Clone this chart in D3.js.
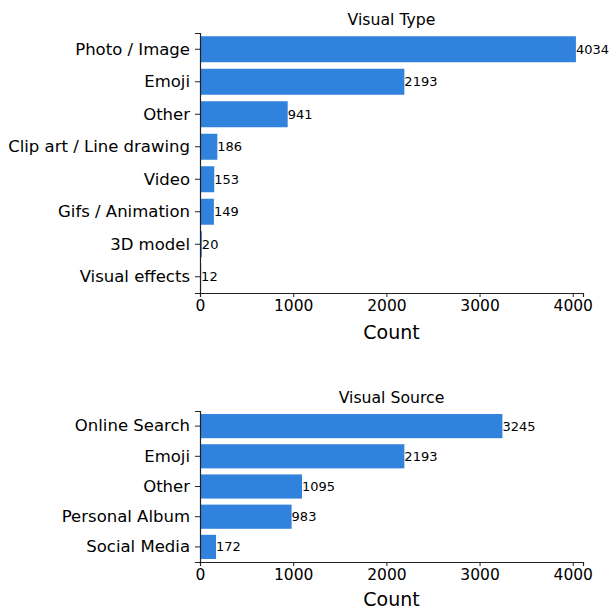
<!DOCTYPE html>
<html><head><meta charset="utf-8">
<script src="https://cdn.jsdelivr.net/npm/d3@7"></script>
<style>body{margin:0;background:#fff;} text{font-family:"DejaVu Sans",sans-serif;fill:#000;}</style>
</head><body>
<svg id="chart" width="611" height="609"></svg>
<script>
const typeCategories = ["Photo / Image","Emoji","Other","Clip art / Line drawing","Video","Gifs / Animation","3D model","Visual effects"];
const typeValues = [4034,2193,941,186,153,149,20,12];
const sourceCategories = ["Online Search","Emoji","Other","Personal Album","Social Media"];
const sourceValues = [3245,2193,1095,983,172];
const xTicks = [0,1000,2000,3000,4000];
const xMax = 4110;
const barColor = "#3182dc";

const svg = d3.select("#chart");
const left = 200, right = 583;

function panel(cats, vals, title, top, bottom, countOffset) {
  const g = svg.append("g");
  const x = d3.scaleLinear().domain([0, xMax]).range([left, right]);
  const y = d3.scaleBand().domain(cats).range([top, bottom]).paddingInner(0.2).paddingOuter(0.1);
  g.selectAll("rect").data(cats).join("rect")
    .attr("x", x(0)).attr("y", d => y(d))
    .attr("width", (d,i) => x(vals[i]) - x(0))
    .attr("height", y.bandwidth()).attr("fill", barColor);
  g.selectAll("text.val").data(cats).join("text").attr("class","val")
    .attr("x", (d,i) => x(vals[i])).attr("y", d => y(d) + y.bandwidth()/2)
    .attr("dy","0.35em").attr("font-size","13px").text((d,i) => vals[i]);
  const ya = g.append("g").attr("transform", `translate(${left},0)`)
    .call(d3.axisLeft(y).tickSize(5).tickPadding(5));
  ya.selectAll("text").attr("font-size","16.5px");
  const xa = g.append("g").attr("transform", `translate(0,${bottom})`)
    .call(d3.axisBottom(x).tickValues(xTicks).tickSize(4).tickPadding(3).tickFormat(d3.format("d")));
  xa.selectAll("text").attr("font-size","15.5px");
  [ya, xa].forEach(a => { a.select(".domain").attr("stroke","#222").attr("stroke-width",1.2); a.selectAll(".tick line").attr("stroke","#222"); a.selectAll("text").style("font-family","DejaVu Sans"); });
  g.append("text").attr("x",(left+right)/2).attr("y", top - 8).attr("text-anchor","middle").attr("font-size","15.7px").text(title);
  g.append("text").attr("x",(left+right)/2).attr("y", bottom + countOffset).attr("text-anchor","middle").attr("font-size","19px").text("Count");
}
panel(typeCategories, typeValues, "Visual Type", 33, 293, 46);
panel(sourceCategories, sourceValues, "Visual Source", 411, 562, 44);
</script>
</body></html>
